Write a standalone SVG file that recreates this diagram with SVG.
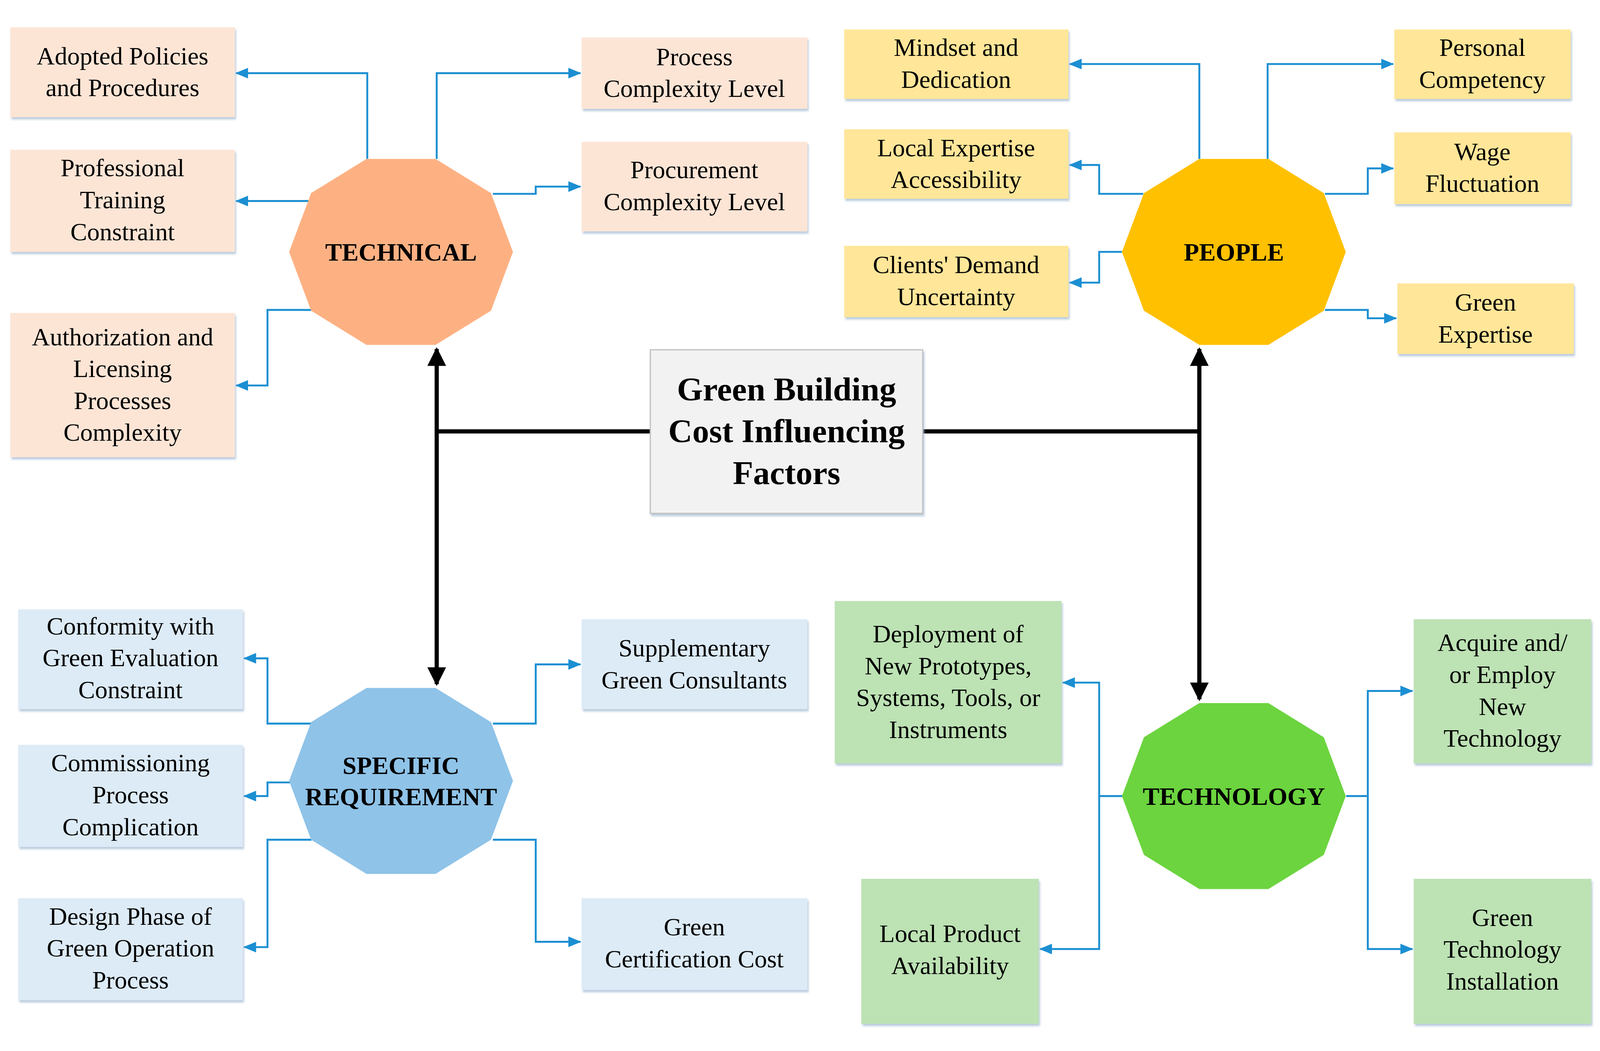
<svg xmlns="http://www.w3.org/2000/svg" width="4217" height="2690" viewBox="0 0 4217 2690" style="width:100vw;height:100vh">
<style>
text{font-family:"Liberation Serif","Times New Roman",serif;fill:#000;text-anchor:middle}
.b{font-size:66px}
.h{font-size:66px;font-weight:bold}
.c{font-size:88px;font-weight:bold}
.bl{fill:none;stroke:#1B8FD2;stroke-width:5;marker-end:url(#ab)}
.k{fill:none;stroke:#000;stroke-width:11}
.box{filter:url(#sh)}
.t{fill:#FDE5D6}.p{fill:#FFE699}.s{fill:#DDEBF7}.g{fill:#BDE2B4}
</style>
<defs>
<marker id="ab" markerWidth="34" markerHeight="28" refX="32" refY="14" orient="auto" markerUnits="userSpaceOnUse" viewBox="0 0 34 28"><path d="M0,0L34,14L0,28z" fill="#1B8FD2"/></marker>
<marker id="ak" viewBox="0 0 10 10" refX="9" refY="5" markerWidth="4.5" markerHeight="4.5" orient="auto"><path d="M0,0L10,5L0,10z" fill="#000"/></marker>
<filter id="sh" x="-5%" y="-5%" width="112%" height="115%"><feDropShadow dx="3" dy="6" stdDeviation="3" flood-color="#9fb7d0" flood-opacity="0.7"/></filter>
<polygon id="dec" points="-91,-245 91,-245 237,-155 295,0 237,155 91,245 -91,245 -237,155 -295,0 -237,-155"/>
</defs>
<g id="connectors">
<path class="bl" d="M968,379V153H622"/>
<path class="bl" d="M1151,379V153H1530"/>
<path class="bl" d="M821,490H622"/>
<path class="bl" d="M1299,471H1412V452H1530"/>
<path class="bl" d="M821,777H705V976H622"/>
<path class="bl" d="M3161,379V129H2819"/>
<path class="bl" d="M3341,379V129H3672"/>
<path class="bl" d="M3013,471H2897V395H2819"/>
<path class="bl" d="M2957,624H2897V705H2819"/>
<path class="bl" d="M3492,471H3605V404H3672"/>
<path class="bl" d="M3492,777H3605V799H3680"/>
<path class="bl" d="M821,1867H705V1695H643"/>
<path class="bl" d="M767,2022H705V2058H643"/>
<path class="bl" d="M821,2173H705V2456H643"/>
<path class="bl" d="M1299,1867H1412V1711H1530"/>
<path class="bl" d="M1299,2173H1412V2442H1530"/>
<path class="bl" d="M2959,2058H2897V1759H2801"/>
<path class="bl" d="M2897,2058V2461H2741"/>
<path class="bl" d="M3548,2058H3605V1781H3723"/>
<path class="bl" d="M3605,2058V2461H3723"/>
<path class="k" d="M1151,1097H1714M2432,1097H3161"/>
<path class="k" d="M1151,1097V880" marker-end="url(#ak)"/>
<path class="k" d="M1151,1097V1763" marker-end="url(#ak)"/>
<path class="k" d="M3161,1097V880" marker-end="url(#ak)"/>
<path class="k" d="M3161,1097V1803" marker-end="url(#ak)"/>
</g>
<g id="center"><rect x="1714" y="882" width="718" height="431" fill="#F2F2F2" stroke="#BFBFBF" stroke-width="3" class="box"/>
<text class="c" x="2073" y="1016">Green Building</text><text class="c" x="2073" y="1126">Cost Influencing</text><text class="c" x="2073" y="1236">Factors</text></g>
<g id="technical"><use href="#dec" x="1057" y="624" fill="#FDB183"/><text class="h" x="1057" y="647">TECHNICAL</text></g>
<g id="people"><use href="#dec" x="3252" y="624" fill="#FFC000"/><text class="h" x="3252" y="647">PEOPLE</text></g>
<g id="specific"><use href="#dec" x="1057" y="2018" fill="#8FC3E8"/><text class="h" x="1057" y="2000">SPECIFIC</text><text class="h" x="1057" y="2082">REQUIREMENT</text></g>
<g id="technology"><use href="#dec" x="3252" y="2058" fill="#6CD43F"/><text class="h" x="3252" y="2081">TECHNOLOGY</text></g>
<g id="adopted"><rect class="box t" x="27" y="32" width="592" height="237"/><text class="b" x="323" y="130">Adopted Policies</text><text class="b" x="323" y="214">and Procedures</text></g>
<g id="professional"><rect class="box t" x="27" y="355" width="592" height="269"/><text class="b" x="323" y="425">Professional</text><text class="b" x="323" y="509">Training</text><text class="b" x="323" y="593">Constraint</text></g>
<g id="authorization"><rect class="box t" x="27" y="785" width="592" height="380"/><text class="b" x="323" y="870">Authorization and</text><text class="b" x="323" y="954">Licensing</text><text class="b" x="323" y="1038">Processes</text><text class="b" x="323" y="1122">Complexity</text></g>
<g id="process"><rect class="box t" x="1533" y="59" width="595" height="188"/><text class="b" x="1830" y="132">Process</text><text class="b" x="1830" y="216">Complexity Level</text></g>
<g id="procurement"><rect class="box t" x="1533" y="334" width="595" height="236"/><text class="b" x="1830" y="430">Procurement</text><text class="b" x="1830" y="514">Complexity Level</text></g>
<g id="mindset"><rect class="box p" x="2225" y="38" width="591" height="183"/><text class="b" x="2520" y="108">Mindset and</text><text class="b" x="2520" y="192">Dedication</text></g>
<g id="localexp"><rect class="box p" x="2225" y="301" width="591" height="183"/><text class="b" x="2520" y="372">Local Expertise</text><text class="b" x="2520" y="456">Accessibility</text></g>
<g id="clients"><rect class="box p" x="2225" y="608" width="591" height="188"/><text class="b" x="2520" y="680">Clients' Demand</text><text class="b" x="2520" y="764">Uncertainty</text></g>
<g id="personal"><rect class="box p" x="3675" y="38" width="465" height="183"/><text class="b" x="3907" y="108">Personal</text><text class="b" x="3907" y="192">Competency</text></g>
<g id="wage"><rect class="box p" x="3675" y="309" width="465" height="189"/><text class="b" x="3907" y="382">Wage</text><text class="b" x="3907" y="466">Fluctuation</text></g>
<g id="greenexp"><rect class="box p" x="3683" y="707" width="465" height="186"/><text class="b" x="3915" y="779">Green</text><text class="b" x="3915" y="863">Expertise</text></g>
<g id="conformity"><rect class="box s" x="48" y="1566" width="592" height="263"/><text class="b" x="344" y="1632">Conformity with</text><text class="b" x="344" y="1716">Green Evaluation</text><text class="b" x="344" y="1800">Constraint</text></g>
<g id="commissioning"><rect class="box s" x="48" y="1923" width="592" height="269"/><text class="b" x="344" y="1993">Commissioning</text><text class="b" x="344" y="2077">Process</text><text class="b" x="344" y="2161">Complication</text></g>
<g id="design"><rect class="box s" x="48" y="2327" width="592" height="269"/><text class="b" x="344" y="2397">Design Phase of</text><text class="b" x="344" y="2481">Green Operation</text><text class="b" x="344" y="2565">Process</text></g>
<g id="supplementary"><rect class="box s" x="1533" y="1592" width="595" height="237"/><text class="b" x="1830" y="1690">Supplementary</text><text class="b" x="1830" y="1774">Green Consultants</text></g>
<g id="certification"><rect class="box s" x="1533" y="2327" width="595" height="242"/><text class="b" x="1830" y="2425">Green</text><text class="b" x="1830" y="2509">Certification Cost</text></g>
<g id="deployment"><rect class="box g" x="2200" y="1544" width="598" height="428"/><text class="b" x="2499" y="1653">Deployment of</text><text class="b" x="2499" y="1737">New Prototypes,</text><text class="b" x="2499" y="1821">Systems, Tools, or</text><text class="b" x="2499" y="1905">Instruments</text></g>
<g id="localprod"><rect class="box g" x="2270" y="2276" width="468" height="382"/><text class="b" x="2504" y="2443">Local Product</text><text class="b" x="2504" y="2527">Availability</text></g>
<g id="acquire"><rect class="box g" x="3726" y="1592" width="468" height="380"/><text class="b" x="3960" y="1676">Acquire and/</text><text class="b" x="3960" y="1760">or Employ</text><text class="b" x="3960" y="1844">New</text><text class="b" x="3960" y="1928">Technology</text></g>
<g id="greentech"><rect class="box g" x="3726" y="2276" width="468" height="382"/><text class="b" x="3960" y="2400">Green</text><text class="b" x="3960" y="2484">Technology</text><text class="b" x="3960" y="2568">Installation</text></g>
</svg>
